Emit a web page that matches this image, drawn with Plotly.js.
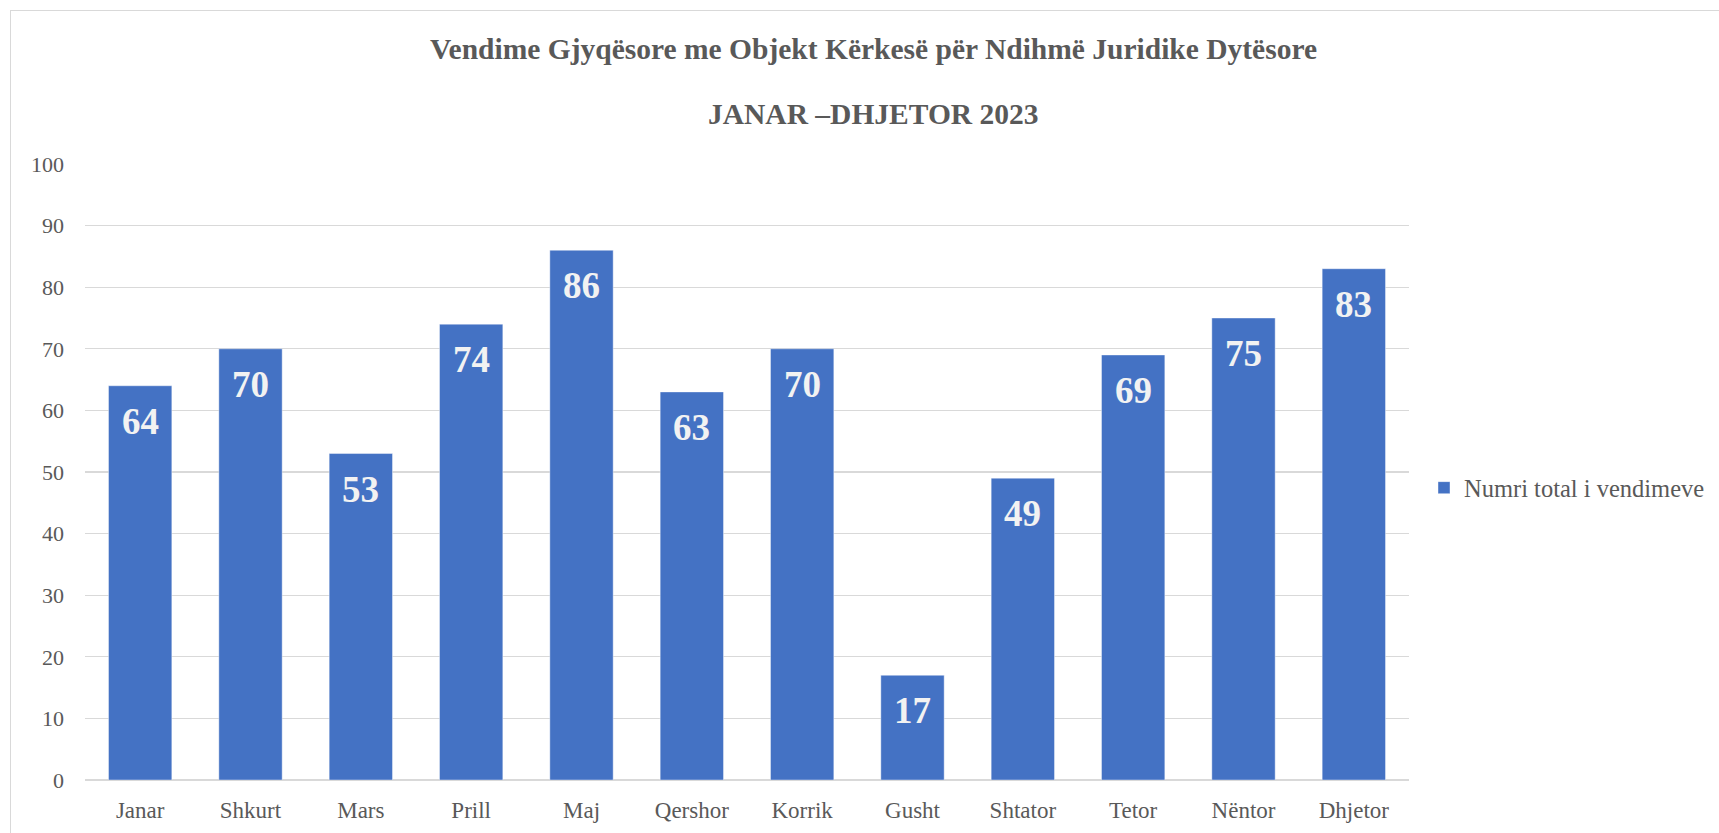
<!DOCTYPE html>
<html>
<head>
<meta charset="utf-8">
<script src="https://cdn.plot.ly/plotly-3.0.1.min.js"></script>
<style>
  html, body { margin: 0; padding: 0; background: #ffffff; overflow: hidden; }
  #chart { width: 1719px; height: 833px; }
  #frame { position: absolute; left: 10px; top: 10px; width: 2000px; height: 2000px;
           border: 1px solid #d9d9d9; pointer-events: none; z-index: 10; }
</style>
</head>
<body>
<div id="chart"></div>
<div id="frame"></div>
<script>
const months = ["Janar", "Shkurt", "Mars", "Prill", "Maj", "Qershor", "Korrik", "Gusht", "Shtator", "Tetor", "Nëntor", "Dhjetor"];
const totals = [64, 70, 53, 74, 86, 63, 70, 17, 49, 69, 75, 83];
const seriesName = "Numri total i vendimeve";
const titleLine1 = "Vendime Gjyqësore me Objekt Kërkesë për Ndihmë Juridike Dytësore";
const titleLine2 = "JANAR –DHJETOR 2023";
const yTicks = [0, 10, 20, 30, 40, 50, 60, 70, 80, 90, 100];

const serif = "'Liberation Serif', 'Times New Roman', serif";
const grey = "#595959";

// layout geometry (pixels)
const W = 1719, H = 833;
const mL = 85, mR = 0, mT = 164, mB = 53;
const paperW = W - mL - mR;           // paper width
const paperH = H - mT - mB;           // plot height
const plotW = 1324;                    // x-axis width
const px = v => (v - mL) / paperW;     // pixel x -> paper x
const py = v => (H - mB - v) / paperH; // pixel y -> paper y

const trace = {
  type: "bar",
  x: months,
  y: totals,
  name: seriesName,
  marker: { color: "#4472c4", line: { color: "rgba(255,255,255,0.55)", width: 0.75 } },
  hoverinfo: "x+y",
  showlegend: true
};

const labelAnnotations = months.map((m, i) => ({
  x: m, y: totals[i], xref: "x", yref: "y",
  text: "<b>" + totals[i] + "</b>",
  showarrow: false, yanchor: "top", xanchor: "center",
  yshift: -13,
  font: { family: serif, size: 37, color: "#f2f2f2" }
}));

const titleAnnotations = [
  { text: "<b>" + titleLine1 + "</b>", y: py(30.5) },
  { text: "<b>" + titleLine2 + "</b>", y: py(95.5) }
].map(t => ({
  text: t.text, xref: "paper", yref: "paper",
  x: px(873), xanchor: "center", y: t.y, yanchor: "top",
  showarrow: false,
  font: { family: serif, size: 29.5, color: grey }
}));

const layout = {
  width: W, height: H,
  paper_bgcolor: "#ffffff", plot_bgcolor: "#ffffff",
  margin: { l: mL, r: mR, t: mT, b: mB, pad: 0 },
  bargap: 0.426,
  xaxis: {
    type: "category",
    domain: [0, plotW / paperW],
    tickfont: { family: serif, size: 23, color: grey },
    showgrid: false, zeroline: false, showline: false,
    ticks: "", ticklabelstandoff: 14
  },
  yaxis: {
    range: [0, 100], tickvals: yTicks, ticktext: yTicks.map(String),
    tickfont: { family: serif, size: 22, color: grey },
    showgrid: true, gridcolor: "#d9d9d9", gridwidth: 1.3,
    zeroline: true, zerolinecolor: "#d9d9d9", zerolinewidth: 1.3,
    showline: false, ticks: "", ticklabelstandoff: 20, fixedrange: true
  },
  legend: {
    x: px(1424), xanchor: "left",
    y: py(487.7), yanchor: "middle",
    font: { family: serif, size: 24.5, color: grey },
    bgcolor: "rgba(0,0,0,0)", itemwidth: 30
  },
  annotations: labelAnnotations.concat(titleAnnotations),
  showlegend: true
};

Plotly.newPlot("chart", [trace], layout, { displayModeBar: false, staticPlot: true });
</script>
</body>
</html>
